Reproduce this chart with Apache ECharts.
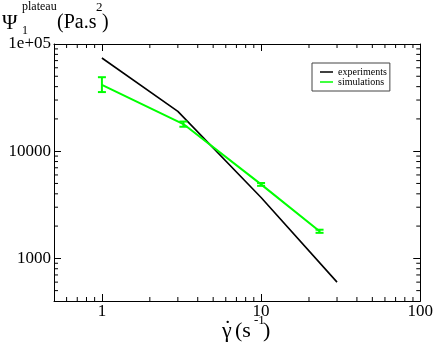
<!DOCTYPE html>
<html>
<head>
<meta charset="utf-8">
<script src="https://cdn.jsdelivr.net/npm/echarts@6/dist/echarts.min.js"></script>
<style>
  html, body { margin: 0; padding: 0; background: #fff; }
  #chart { width: 436px; height: 351px; }
</style>
</head>
<body>
<div id="chart"></div>
<script>
// experiments (black line)
const expX = [1, 3, 10, 30]
const expY = [74000, 23500, 3700, 600]
// simulations (green line with error bars)
const simX = [1, 3.25, 10, 23.3]
const simY = [41500, 17900, 4900, 1790]
const simLow = [35600, 16900, 4750, 1730]
const simHigh = [49000, 18900, 5050, 1850]

const xTicks = [1, 10, 100]
const xTickLabels = ['1', '10', '100']
const yTicks = [1000, 10000, 100000]
const yTickLabels = ['1000', '10000', '1e+05']
const xMinor = [0.6, 0.7, 0.8, 0.9, 2, 3, 4, 5, 6, 7, 8, 9, 20, 30, 40, 50, 60, 70, 80, 90]
const yMinor = [500, 600, 700, 800, 900, 2000, 3000, 4000, 5000, 6000, 7000, 8000, 9000,
  20000, 30000, 40000, 50000, 60000, 70000, 80000, 90000]

const X_MIN = 0.5, X_MAX = 100, Y_MIN = 400, Y_MAX = 100000
const serif = 'Liberation Serif'

function pickLabel (ticks, labels) {
  return function (v) {
    const i = ticks.findIndex(t => Math.abs(t - v) / t < 1e-6)
    return i >= 0 ? labels[i] : ''
  }
}

function baseAxis (extra) {
  return Object.assign({
    type: 'log',
    logBase: 10,
    axisLine: { show: true, lineStyle: { color: '#000', width: 1 } },
    axisTick: { show: true, inside: true, length: 7, lineStyle: { color: '#000' } },
    splitLine: { show: false },
    minorTick: { show: false },
    axisLabel: { show: false }
  }, extra)
}

// small helper for the title pieces (x = left edge, y = vertical middle)
function txt (s, x, y, size) {
  return {
    type: 'text', x: x, y: y, silent: true,
    style: { text: s, font: size + 'px "Liberation Serif"', fill: '#000', align: 'left', verticalAlign: 'middle' }
  }
}

const chart = echarts.init(document.getElementById('chart'), null, { renderer: 'canvas' })

const option = {
  animation: false,
  backgroundColor: '#fff',
  grid: { left: 54, right: 14, top: 44, bottom: 50 },
  xAxis: [
    baseAxis({
      position: 'bottom', min: X_MIN, max: X_MAX,
      axisLabel: {
        show: true, color: '#000', fontFamily: serif, fontSize: 17, margin: 2,
        formatter: pickLabel(xTicks, xTickLabels)
      }
    }),
    baseAxis({ position: 'top', min: X_MIN, max: X_MAX })
  ],
  yAxis: [
    baseAxis({
      position: 'left', min: Y_MIN, max: Y_MAX,
      axisLabel: {
        show: true, color: '#000', fontFamily: serif, fontSize: 17, margin: 3,
        formatter: pickLabel(yTicks, yTickLabels)
      }
    }),
    baseAxis({ position: 'right', min: Y_MIN, max: Y_MAX })
  ],
  legend: {
    left: 312, top: 63,
    orient: 'vertical',
    borderColor: '#444', borderWidth: 1,
    backgroundColor: '#fff',
    padding: [4, 3, 4, 8],
    itemGap: 0,
    itemWidth: 13, itemHeight: 1.5,
    icon: 'rect',
    textStyle: { fontFamily: serif, fontSize: 10, lineHeight: 9, color: '#000' },
    data: ['experiments', 'simulations']
  },
  series: [
    {
      name: 'experiments',
      type: 'line',
      data: expX.map((x, i) => [x, expY[i]]),
      symbol: 'none',
      lineStyle: { color: '#000', width: 1.6 },
      itemStyle: { color: '#000' },
      z: 3
    },
    {
      name: 'simulations',
      type: 'line',
      data: simX.map((x, i) => [x, simY[i]]),
      symbol: 'none',
      lineStyle: { color: '#00ff00', width: 2 },
      itemStyle: { color: '#00ff00' },
      z: 4
    },
    {
      name: 'errorbars',
      type: 'custom',
      data: simX.map((x, i) => [x, simLow[i], simHigh[i]]),
      z: 4,
      renderItem: function (params, api) {
        const lo = api.coord([api.value(0), api.value(1)])
        const hi = api.coord([api.value(0), api.value(2)])
        const w = 4
        const style = { stroke: '#00ff00', lineWidth: 2 }
        return {
          type: 'group',
          children: [
            { type: 'line', shape: { x1: lo[0], y1: lo[1], x2: hi[0], y2: hi[1] }, style: style },
            { type: 'line', shape: { x1: lo[0] - w, y1: lo[1], x2: lo[0] + w, y2: lo[1] }, style: style },
            { type: 'line', shape: { x1: hi[0] - w, y1: hi[1], x2: hi[0] + w, y2: hi[1] }, style: style }
          ]
        }
      }
    },
    {
      // minor ticks on the x axes (bottom + top)
      name: 'xminor',
      type: 'custom',
      silent: true,
      data: xMinor.map(v => [v, 1000]),
      renderItem: function (params, api) {
        const c = api.coord([api.value(0), 1000])
        const cs = params.coordSys
        const style = { stroke: '#000', lineWidth: 1 }
        const yb = cs.y + cs.height
        const yt = cs.y
        return {
          type: 'group',
          children: [
            { type: 'line', shape: { x1: c[0], y1: yb, x2: c[0], y2: yb - 4 }, style: style },
            { type: 'line', shape: { x1: c[0], y1: yt, x2: c[0], y2: yt + 4 }, style: style }
          ]
        }
      }
    },
    {
      // minor ticks on the y axes (left + right)
      name: 'yminor',
      type: 'custom',
      silent: true,
      data: yMinor.map(v => [1, v]),
      renderItem: function (params, api) {
        const c = api.coord([1, api.value(1)])
        const cs = params.coordSys
        const style = { stroke: '#000', lineWidth: 1 }
        const xl = cs.x
        const xr = cs.x + cs.width
        return {
          type: 'group',
          children: [
            { type: 'line', shape: { x1: xl, y1: c[1], x2: xl + 4, y2: c[1] }, style: style },
            { type: 'line', shape: { x1: xr, y1: c[1], x2: xr - 4, y2: c[1] }, style: style }
          ]
        }
      }
    }
  ],
  graphic: [
    // y axis title: Psi_1^plateau (Pa.s^2)
    txt('Ψ', 2, 23, 21),
    txt('1', 22, 31, 12),
    txt('plateau', 22, 6.5, 12),
    txt('(Pa.s', 57, 23, 20),
    txt('2', 96, 7.5, 13),
    txt(')', 102, 23, 20),
    // x axis title: gamma-dot (s^-1)
    txt('γ', 222, 331.5, 22),
    txt('˙', 224, 329, 22),
    txt('(s', 235, 331.5, 22),
    txt('-1', 254, 320.5, 13),
    txt(')', 263, 331.5, 22)
  ]
}

chart.setOption(option)
</script>
</body>
</html>
